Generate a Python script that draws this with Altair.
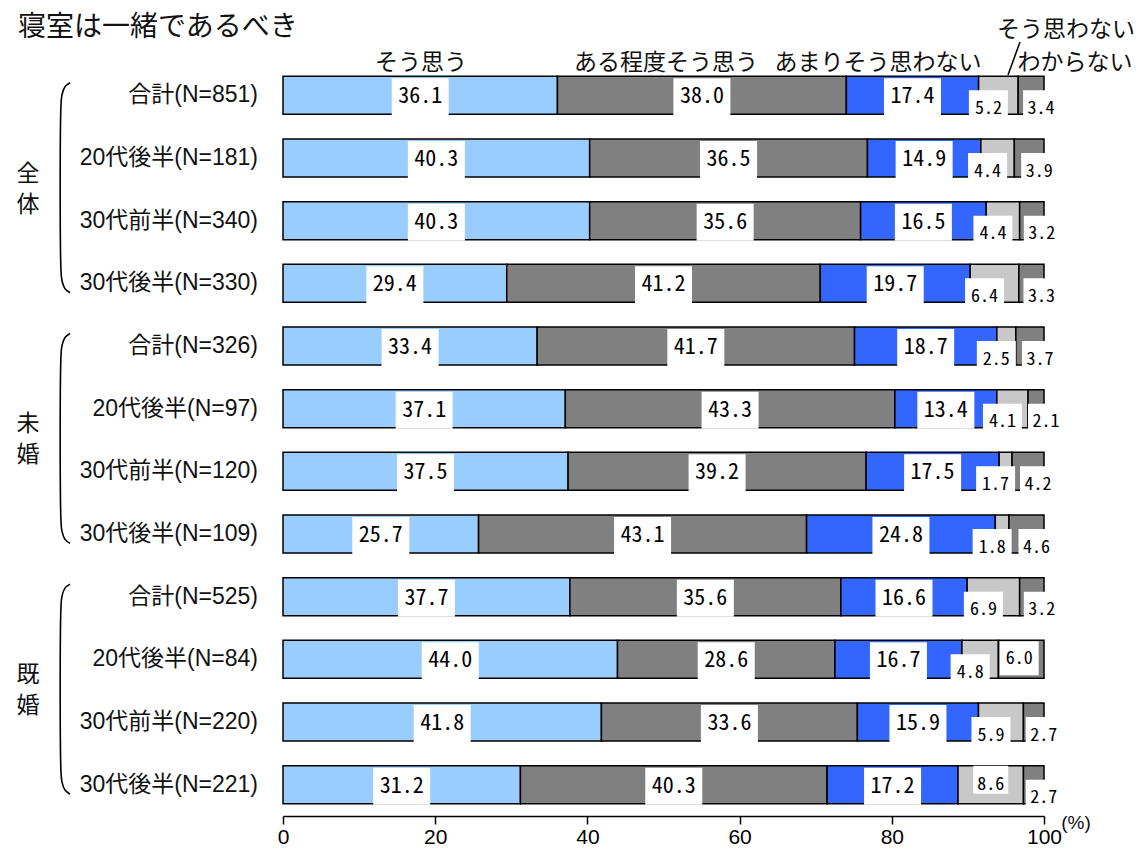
import altair as alt
import pandas as pd

# ---------------- data ----------------
title_text = "寝室は一緒であるべき"
groups = ["全体", "未婚", "既婚"]
row_labels = [
    "合計(N=851)", "20代後半(N=181)", "30代前半(N=340)", "30代後半(N=330)",
    "合計(N=326)", "20代後半(N=97)", "30代前半(N=120)", "30代後半(N=109)",
    "合計(N=525)", "20代後半(N=84)", "30代前半(N=220)", "30代後半(N=221)",
]
series = ["そう思う", "ある程度そう思う", "あまりそう思わない", "そう思わない", "わからない"]
s1 = [36.1, 40.3, 40.3, 29.4, 33.4, 37.1, 37.5, 25.7, 37.7, 44.0, 41.8, 31.2]
s2 = [38.0, 36.5, 35.6, 41.2, 41.7, 43.3, 39.2, 43.1, 35.6, 28.6, 33.6, 40.3]
s3 = [17.4, 14.9, 16.5, 19.7, 18.7, 13.4, 17.5, 24.8, 16.6, 16.7, 15.9, 17.2]
s4 = [5.2, 4.4, 4.4, 6.4, 2.5, 4.1, 1.7, 1.8, 6.9, 4.8, 5.9, 8.6]
s5 = [3.4, 3.9, 3.2, 3.3, 3.7, 2.1, 4.2, 4.6, 3.2, 6.0, 2.7, 2.7]
series_values = [s1, s2, s3, s4, s5]
colors = ["#99CCFF", "#808080", "#3366FF", "#C8C8C8", "#808080"]
x_ticks = [0, 20, 40, 60, 80, 100]

# ---------------- layout helpers ----------------
W, H = 761, 752
N = len(row_labels)
UX = 100 / W      # data units per pixel (x)
UY = N / H        # row units per pixel (y)
PLOT_LEFT, PLOT_TOP = 283, 64   # page position of plot origin

def px_x(p):
    return (p - PLOT_LEFT) * UX

def px_y(p):
    return (p - PLOT_TOP) * UY

LABEL_FONT = "Liberation Sans, Noto Sans CJK JP, sans-serif"
CJK_FONT = "Noto Sans CJK JP, sans-serif"
NUM_FONT = "Noto Sans Mono CJK JP, DejaVu Sans Mono, monospace"

# ---------------- tables ----------------
bar_rows = []
for i, lab in enumerate(row_labels):
    vals = [s[i] for s in series_values]
    tot = sum(vals)
    cum = 0.0
    for k, v in enumerate(vals):
        start = cum / tot * 100
        cum += v
        end = cum / tot * 100
        bar_rows.append(dict(row=i, label=lab, series=series[k], k=k, value=v,
                             start=start, end=end,
                             y1=i + 0.5 - 19 * UY, y2=i + 0.5 + 19 * UY))
bars = pd.DataFrame(bar_rows)

big, small = [], []
for r in bar_rows:
    cx = (r["start"] + r["end"]) / 2
    cy = r["row"] + 0.5
    txt = f"{r['value']:.1f}"
    if r["k"] < 3:
        big.append(dict(tx=cx, ty=cy + 1 * UY, bx1=cx - 28.5 * UX, bx2=cx + 28.5 * UX,
                        by1=cy - 17 * UY, by2=cy + 20 * UY, text=txt))
    elif r["k"] == 3:
        if r["value"] >= 8:
            small.append(dict(tx=cx, ty=cy, bx1=cx - 17.5 * UX, bx2=cx + 17.5 * UX,
                              by1=cy - 19 * UY, by2=cy + 9 * UY, text=txt))
        else:
            tx = cx - 10 * UX
            small.append(dict(tx=tx, ty=cy + 13.5 * UY, bx1=tx - 19.5 * UX, bx2=tx + 19.5 * UX,
                              by1=cy - 5 * UY, by2=cy + 23 * UY, text=txt))
    else:
        if r["value"] >= 5:
            small.append(dict(tx=cx - 2 * UX, ty=cy, bx1=cx - 21.5 * UX, bx2=cx + 17.5 * UX,
                              by1=cy - 18 * UY, by2=cy + 16 * UY, text=txt))
        else:
            tx = cx + 10 * UX
            small.append(dict(tx=tx, ty=cy + 13.5 * UY, bx1=tx - 18 * UX, bx2=tx + 18 * UX,
                              by1=cy - 5 * UY, by2=cy + 23 * UY, text=txt))
big_df = pd.DataFrame(big)
small_df = pd.DataFrame(small)

rowlab_df = pd.DataFrame(dict(label=row_labels, y=[i + 0.5 for i in range(N)]))

group_df = pd.DataFrame(dict(
    text=[list(g) for g in groups],
    x=[px_x(28)] * 3,
    y=[gi * 4 + 1.75 for gi in range(3)],
))

# bracket "(" for each group
br = []
for gi in range(3):
    top = gi * 4 + 0.3
    hpx = 3.35 / UY
    shape = [(9, 0), (4, 4), (1, 12), (0, 22), (0, hpx - 22), (1, hpx - 12), (4, hpx - 4), (9, hpx)]
    for o, (dx, dy) in enumerate(shape):
        br.append(dict(g=gi, o=o, x=px_x(61 + dx), y=top + dy * UY))
br_df = pd.DataFrame(br)

legend_df = pd.DataFrame(dict(
    text=series,
    x=[px_x(421), px_x(666), px_x(878), px_x(1066), px_x(1075)],
    y=[px_y(63), px_y(63), px_y(63), px_y(30), px_y(63)],
))
slash_df = pd.DataFrame(dict(x=[px_x(1008)], y=[px_y(75)], x2=[px_x(1020)], y2=[px_y(42)]))
title_df = pd.DataFrame(dict(text=[title_text], x=[px_x(18)], y=[px_y(28)]))
pct_df = pd.DataFrame(dict(text=["(%)"], x=[px_x(1076)], y=[px_y(823)]))

# ---------------- scales ----------------
xs = alt.Scale(domain=[0, 100], nice=False, zero=True)
ys = alt.Scale(domain=[0, N], nice=False, zero=False, reverse=True)

def X(field):
    return alt.X(field, type="quantitative", scale=xs, title=None)

def Y(field):
    return alt.Y(field, type="quantitative", scale=ys, axis=None)

bar_layer = alt.Chart(bars).mark_bar(stroke="black", strokeWidth=1.5).encode(
    x=alt.X("start:Q", scale=xs, title=None,
            axis=alt.Axis(values=x_ticks, grid=False, domainColor="black", tickColor="black",
                          tickSize=8, tickWidth=1.5, domainWidth=1.5, labelFontSize=21,
                          labelColor="black", labelFont=LABEL_FONT, labelPadding=2,
                          labelFlush=False, format="d")),
    x2="end:Q",
    y=Y("y1"),
    y2="y2:Q",
    color=alt.Color("series:N", scale=alt.Scale(domain=series, range=colors), legend=None),
)

big_box = alt.Chart(big_df).mark_rect(color="white").encode(
    x=X("bx1"), x2="bx2:Q", y=Y("by1"), y2="by2:Q")
big_txt = alt.Chart(big_df).mark_text(font=NUM_FONT, fontSize=22, color="black",
                                       baseline="middle", align="center").encode(
    x=X("tx"), y=Y("ty"), text="text:N")

small_box = alt.Chart(small_df).mark_rect(color="white").encode(
    x=X("bx1"), x2="bx2:Q", y=Y("by1"), y2="by2:Q")
small_txt = alt.Chart(small_df).mark_text(font=NUM_FONT, fontSize=18, color="black",
                                           baseline="middle", align="center").encode(
    x=X("tx"), y=Y("ty"), text="text:N")

row_txt = alt.Chart(rowlab_df).mark_text(font=LABEL_FONT, fontSize=23, color="#111111",
                                          align="right", baseline="middle", dx=-25).encode(
    x=alt.datum(0, type="quantitative", scale=xs), y=Y("y"), text="label:N")

group_txt = alt.Chart(group_df).mark_text(font=CJK_FONT, fontSize=23, color="#111111",
                                           align="center", baseline="middle", lineHeight=31).encode(
    x=X("x"), y=Y("y"), text="text")

bracket = alt.Chart(br_df).mark_line(color="black", strokeWidth=1.6,
                                     interpolate="catmull-rom").encode(
    x=X("x"), y=Y("y"), detail="g:N", order="o:Q")

legend_txt = alt.Chart(legend_df).mark_text(font=CJK_FONT, fontSize=23, color="#111111",
                                             align="center", baseline="middle").encode(
    x=X("x"), y=Y("y"), text="text:N")

slash = alt.Chart(slash_df).mark_rule(color="black", strokeWidth=1.5).encode(
    x=X("x"), y=Y("y"), x2="x2:Q", y2="y2:Q")

title_txt = alt.Chart(title_df).mark_text(font=CJK_FONT, fontSize=28, color="#111111",
                                           align="left", baseline="middle").encode(
    x=X("x"), y=Y("y"), text="text:N")

pct_txt = alt.Chart(pct_df).mark_text(font=LABEL_FONT, fontSize=19, color="#111111",
                                       align="center", baseline="middle").encode(
    x=X("x"), y=Y("y"), text="text:N")

chart = alt.layer(
    bar_layer, big_box, big_txt, small_box, small_txt, row_txt, group_txt, bracket,
    legend_txt, slash, title_txt, pct_txt,
).properties(
    width=W, height=H,
    autosize=alt.AutoSizeParams(type="none"),
    padding={"left": 275, "top": 56, "right": 90, "bottom": 34},
    background="white",
).configure_view(stroke=None)

chart.save("out.html", embed_options={"renderer": "svg", "actions": False})
